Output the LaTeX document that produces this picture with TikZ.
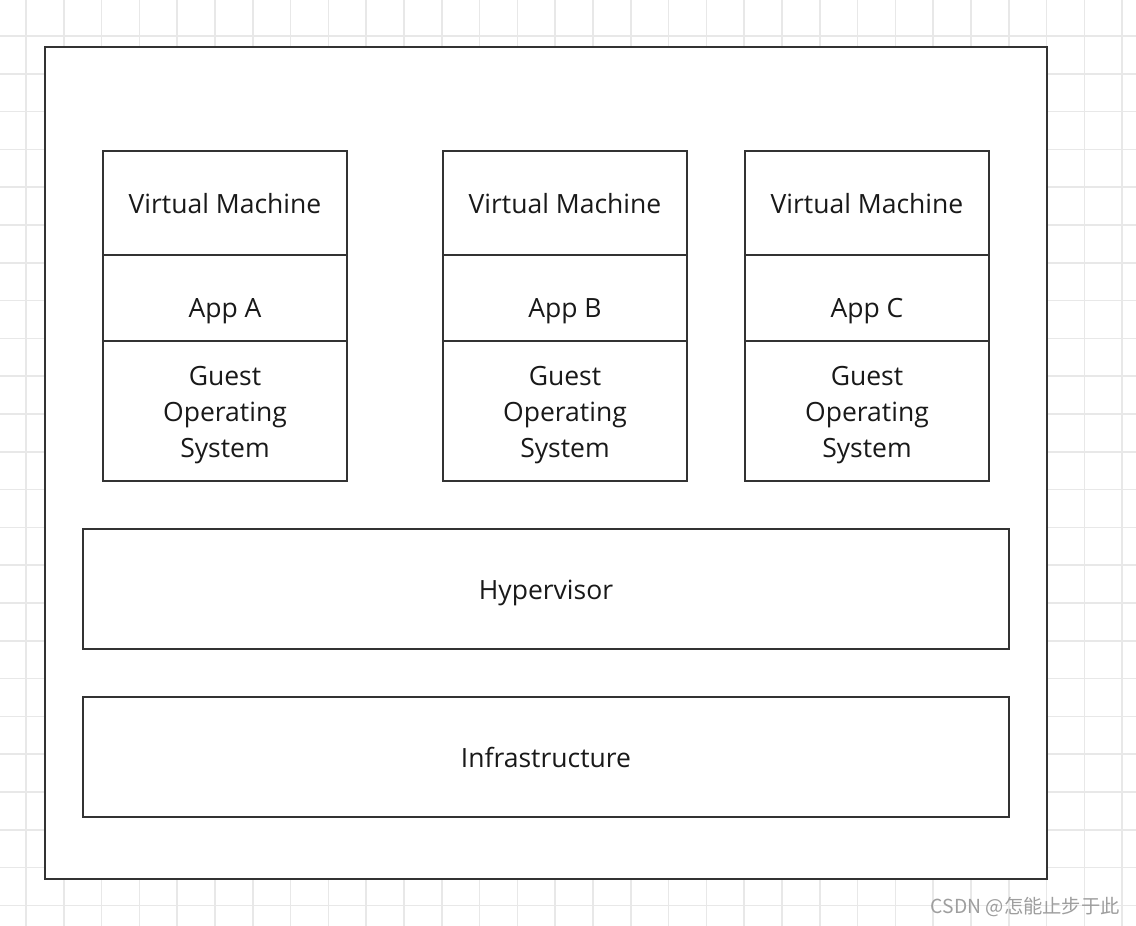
\documentclass[tikz,border=0pt]{standalone}
\usepackage{fontspec}
\setmainfont{Open Sans}
\newfontfamily\cjkfont{Noto Sans CJK SC}
\begin{document}
\begin{tikzpicture}[x=1pt,y=-1pt,
  gridline/.style={draw=black!9,line width=1.5pt},
  box/.style={draw=black!80,line width=2pt,fill=white,rectangle,inner sep=0pt},
  lbl/.style={font=\fontsize{26.5}{36}\selectfont,text=black!90,align=center,inner sep=0pt},
  wmark/.style={font=\cjkfont\fontsize{19.3}{22}\selectfont,text=black!38,inner sep=0pt,anchor=east}]
\useasboundingbox (0,0) rectangle (1136,926);
\fill[white] (0,0) rectangle (1136,926);
\foreach \i in {0,...,29} \draw[gridline] ({26+37.8*\i},0) -- ({26+37.8*\i},926);
\foreach \j in {0,...,23} \draw[gridline] (0,{36+37.8*\j}) -- (1136,{36+37.8*\j});
% outer frame
\node[box,minimum width=1002pt,minimum height=832pt] (host) at (546,463) {};
% VMs
\foreach \n/\c/\a in {A/225/A,B/565/B,C/867/C}{
  \node[box,minimum width=244pt,minimum height=104pt] (vm\n) at (\c,203) {};
  \node[box,minimum width=244pt,minimum height=86pt] (app\n) at (\c,298) {};
  \node[box,minimum width=244pt,minimum height=140pt] (os\n) at (\c,411) {};
  \node[lbl,anchor=base] (vmt\n) at (\c,213) {Virtual Machine};
  \node[lbl,anchor=base] (appt\n) at (\c,317) {App \a};
  \node[lbl] (ost\n) at (\c,415) {Guest\\Operating\\System};
}
\node[box,minimum width=926pt,minimum height=120pt] (hyp) at (546,589) {};
\node[lbl,anchor=base] (hypt) at (546,599) {Hypervisor};
\node[box,minimum width=926pt,minimum height=120pt] (inf) at (546,757) {};
\node[lbl,anchor=base] (inft) at (546,767) {Infrastructure};
\node[wmark] (wm) at (1120,907) {CSDN @怎能止步于此};
\end{tikzpicture}
\end{document}
